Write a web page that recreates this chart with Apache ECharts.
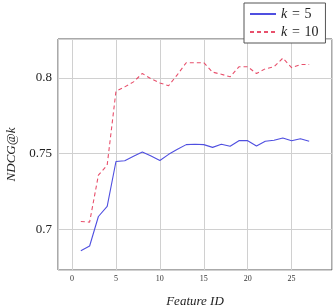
<!DOCTYPE html>
<html><head><meta charset="utf-8">
<script src="https://cdn.jsdelivr.net/npm/echarts@6/dist/echarts.min.js"></script>
<style>html,body{margin:0;padding:0;background:#fff}#c{width:336px;height:308px}</style>
</head><body><div id="c"></div>
<script>
const featureIds = [1,2,3,4,5,6,7,8,9,10,11,12,13,14,15,16,17,18,19,20,21,22,23,24,25,26,27];
const k5 = [0.6862,0.6893,0.7087,0.7154,0.7449,0.7454,0.7483,0.7511,0.7485,0.7456,0.7496,0.7529,0.7560,0.7562,0.7560,0.7542,0.7562,0.7549,0.7586,0.7586,0.7551,0.7582,0.7589,0.7604,0.7586,0.7599,0.7582];
const k10 = [0.7054,0.7050,0.7359,0.7425,0.7911,0.7940,0.7973,0.8028,0.7993,0.7966,0.7948,0.8021,0.8099,0.8099,0.8099,0.8037,0.8023,0.8006,0.8072,0.8072,0.8028,0.8059,0.8072,0.8129,0.8066,0.8087,0.8087];
const seriesNames = ['k5', 'k10'];
const legendLabels = {k5: '{i|k}\u2004=\u20045', k10: '{i|k}\u2004=\u200410'};

const serif = '"Liberation Serif", "DejaVu Serif", serif';
const chart = echarts.init(document.getElementById('c'), null, {renderer: 'canvas'});
chart.setOption({
  animation: false,
  backgroundColor: '#fff',
  grid: {left: 58, right: 4, top: 39, bottom: 38, show: true, borderColor: '#555', borderWidth: 1, backgroundColor: 'transparent', containLabel: false, outerBoundsMode: 'none'},
  legend: {
    orient: 'vertical', left: 244, top: 3,
    padding: [4, 7, 4, 5], itemGap: 4, itemWidth: 26, itemHeight: 14,
    backgroundColor: '#fff', borderColor: '#555', borderWidth: 1,
    data: seriesNames,
    itemStyle: {opacity: 0},
    formatter: n => legendLabels[n],
    textStyle: {fontFamily: serif, fontSize: 14, color: '#222', rich: {i: {fontFamily: serif, fontStyle: 'italic', fontSize: 14, color: '#222'}}}
  },
  xAxis: {
    type: 'value', min: -1.6, max: 29.6, splitNumber: 6,
    name: 'Feature ID', nameLocation: 'middle', nameGap: 25,
    nameTextStyle: {fontFamily: serif, fontStyle: 'italic', fontSize: 13, color: '#222'},
    axisLine: {show: false}, axisTick: {show: false},
    axisLabel: {fontFamily: serif, fontSize: 8, color: '#333', margin: 5, showMinLabel: false, showMaxLabel: false,
      formatter: v => (Math.abs(v - Math.round(v)) < 1e-6 && Math.round(v) % 5 === 0) ? String(Math.round(v)) : ''},
    splitLine: {show: true, lineStyle: {color: '#d0d0d0', width: 1}}
  },
  yAxis: {
    type: 'value', min: 0.6735, max: 0.8255, splitNumber: 3,
    name: 'NDCG@k', nameLocation: 'middle', nameGap: 39,
    nameTextStyle: {fontFamily: serif, fontStyle: 'italic', fontSize: 13, color: '#222'},
    axisLine: {show: false}, axisTick: {show: false},
    axisLabel: {fontFamily: serif, fontSize: 13, color: '#222', margin: 6, showMinLabel: false, showMaxLabel: false,
      formatter: v => {const r = Math.round(v * 100) / 100; return (Math.abs(v - r) < 1e-6 && Math.round(r * 100) % 5 === 0) ? String(r) : '';}},
    splitLine: {show: true, lineStyle: {color: '#d0d0d0', width: 1}}
  },
  series: [
    {name: 'k5', type: 'line', symbol: 'none', data: featureIds.map((x, i) => [x, k5[i]]),
     lineStyle: {color: '#4f4fe0', width: 1.1}, itemStyle: {color: '#4f4fe0'}},
    {name: 'k10', type: 'line', symbol: 'none', data: featureIds.map((x, i) => [x, k10[i]]),
     lineStyle: {color: '#e8506c', width: 1.1, type: [4, 3]}, itemStyle: {color: '#e8506c'}}
  ]
});
</script></body></html>
